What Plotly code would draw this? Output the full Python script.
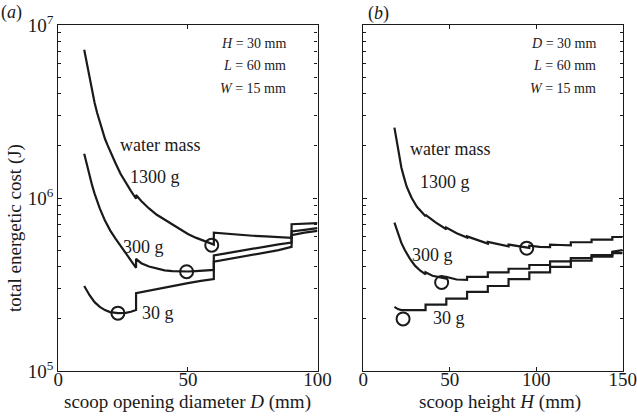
import plotly.graph_objects as go

W, H = 637, 417

# ---------------- data: panel (a), cost vs scoop opening diameter D (mm) ----------------
D_1300 = [10, 11, 12, 13, 14, 15, 16, 17, 18, 19, 20, 22, 24, 26, 28, 30, 30, 32, 35, 38, 41, 44, 47,
          50, 53, 56, 58, 60, 60, 65, 70, 75, 80, 85, 90, 90, 95, 100]
E_1300_a = [7.2e6, 6.0e6, 5.0e6, 4.2e6, 3.55e6, 3.1e6, 2.75e6, 2.45e6, 2.2e6, 2.02e6, 1.86e6, 1.6e6,
            1.38e6, 1.22e6, 1.1e6, 0.99e6, 1.04e6, 9.6e5, 8.7e5, 8.0e5, 7.5e5, 7.0e5, 6.6e5,
            6.2e5, 5.9e5, 5.65e5, 5.5e5, 5.38e5, 6.3e5, 6.2e5, 6.12e5, 6.05e5, 6.0e5, 5.95e5, 5.88e5,
            7.05e5, 7.1e5, 7.15e5]

D_300 = [10, 11, 12, 13, 14, 15, 16, 18, 20, 22, 24, 26, 28, 30, 30, 32, 35, 38, 41, 44, 47, 50, 53,
         56, 60, 60, 65, 70, 75, 80, 85, 90, 90, 95, 100]
E_300_a = [1.8e6, 1.55e6, 1.35e6, 1.19e6, 1.06e6, 9.6e5, 8.7e5, 7.4e5, 6.5e5, 5.85e5, 5.3e5, 4.85e5,
           4.38e5, 3.95e5, 4.45e5, 4.2e5, 4.02e5, 3.9e5, 3.82e5, 3.78e5, 3.76e5, 3.76e5, 3.78e5,
           3.8e5, 3.84e5, 4.65e5, 4.8e5, 4.95e5, 5.1e5, 5.25e5, 5.4e5, 5.52e5, 6.4e5, 6.55e5, 6.7e5]

D_30 = [10, 12, 14, 16, 18, 20, 23, 26, 28, 30, 30, 35, 40, 45, 50, 55, 60,
        60, 65, 70, 75, 80, 85, 90, 90, 95, 100]
E_30_a = [3.1e5, 2.75e5, 2.5e5, 2.35e5, 2.25e5, 2.19e5, 2.16e5, 2.17e5, 2.2e5, 2.25e5, 2.82e5,
          2.92e5, 3.02e5, 3.12e5, 3.22e5, 3.32e5, 3.4e5,
          4.28e5, 4.42e5, 4.56e5, 4.7e5, 4.85e5, 5.0e5, 5.22e5, 6.1e5, 6.3e5, 6.45e5]

D_opt = [23, 49.5, 59.2]
E_opt_a = [2.16e5, 3.75e5, 5.34e5]

# ---------------- data: panel (b), cost vs scoop height H (mm) ----------------
H_1300 = [18, 19, 20, 21, 22, 23.5, 25, 26.5, 28, 31, 33.5, 36, 36, 42, 48, 48, 54, 60, 60, 66, 72,
          72, 78, 84, 84, 90, 96, 96, 102, 108, 108, 114, 120, 120, 132, 132, 144, 144, 150]
E_1300_b = [2.55e6, 2.2e6, 1.9e6, 1.68e6, 1.5e6, 1.32e6, 1.17e6, 1.08e6, 1.0e6, 8.9e5, 8.3e5, 7.85e5,
            8.0e5, 7.2e5, 6.6e5, 6.75e5, 6.25e5, 5.9e5, 6.0e5, 5.7e5, 5.45e5, 5.58e5, 5.4e5, 5.25e5,
            5.38e5, 5.25e5, 5.15e5, 5.3e5, 5.22e5, 5.2e5, 5.38e5, 5.35e5, 5.33e5, 5.55e5, 5.55e5,
            5.75e5, 5.75e5, 5.95e5, 5.95e5]

H_300 = [18, 20, 22, 24, 27, 30, 33, 36, 36, 40, 44, 48, 48, 54, 60, 60, 72, 72, 84, 84, 96, 96,
         108, 108, 120, 120, 132, 132, 144, 144, 150]
E_300_b = [7.2e5, 6.2e5, 5.5e5, 5.0e5, 4.45e5, 4.05e5, 3.8e5, 3.62e5, 3.72e5, 3.55e5, 3.48e5, 3.42e5,
           3.5e5, 3.38e5, 3.36e5, 3.5e5, 3.5e5, 3.72e5, 3.72e5, 3.9e5, 3.9e5, 4.1e5,
           4.1e5, 4.3e5, 4.3e5, 4.5e5, 4.5e5, 4.68e5, 4.68e5, 4.9e5, 5.0e5]

H_30 = [18, 20, 22, 36, 36, 48, 48, 60, 60, 72, 72, 84, 84, 96, 96, 108, 108, 120, 120, 132, 132,
        144, 144, 150]
E_30_b = [2.35e5, 2.28e5, 2.25e5, 2.25e5, 2.42e5, 2.42e5, 2.62e5, 2.62e5, 2.87e5, 2.87e5, 3.1e5,
          3.1e5, 3.4e5, 3.4e5, 3.72e5, 3.72e5, 4.0e5, 4.0e5, 4.35e5, 4.35e5, 4.58e5, 4.58e5,
          4.8e5, 4.8e5]

H_opt = [23, 45.3, 94.5]
E_opt_b = [2.0e5, 3.25e5, 5.13e5]

# ---------------- tick labels ----------------
x_ticks_a = [0, 50, 100]
x_ticks_b = [0, 50, 100, 150]
y_major = [1e5, 1e6, 1e7]
y_major_text = ["10<sup>5</sup>", "10<sup>6</sup>", "10<sup>7</sup>"]
y_minor = [k * 10 ** e for e in (5, 6) for k in range(2, 10)]

FONT = "Liberation Serif"
INK = "#1a1a1a"
LW = 2.2


def px(x):
    return x / W


def py(y):
    return 1 - y / H


fig = go.Figure()
for xs, ys in [(D_1300, E_1300_a), (D_300, E_300_a), (D_30, E_30_a)]:
    fig.add_trace(go.Scatter(x=xs, y=ys, mode="lines", line=dict(color=INK, width=LW),
                             xaxis="x", yaxis="y", showlegend=False, hoverinfo="skip"))
fig.add_trace(go.Scatter(x=D_opt, y=E_opt_a, mode="markers",
                         marker=dict(symbol="circle-open", size=13, color=INK, line=dict(width=2)),
                         xaxis="x", yaxis="y", showlegend=False))
for xs, ys in [(H_1300, E_1300_b), (H_300, E_300_b), (H_30, E_30_b)]:
    fig.add_trace(go.Scatter(x=xs, y=ys, mode="lines", line=dict(color=INK, width=LW),
                             xaxis="x2", yaxis="y2", showlegend=False, hoverinfo="skip"))
fig.add_trace(go.Scatter(x=H_opt, y=E_opt_b, mode="markers",
                         marker=dict(symbol="circle-open", size=13, color=INK, line=dict(width=2)),
                         xaxis="x2", yaxis="y2", showlegend=False))

common_x = dict(showgrid=False, zeroline=False, showline=True, linecolor=INK, linewidth=1.2,
                mirror="allticks", ticks="inside", ticklen=4, tickcolor=INK, automargin=False,
                ticklabelstandoff=-9,
                tickfont=dict(family=FONT, size=19, color=INK))
common_y = dict(type="log", range=[5, 7], showgrid=False, zeroline=False, showline=True,
                linecolor=INK, linewidth=1.2, mirror="allticks", ticks="inside", ticklen=4,
                tickcolor=INK, tickvals=y_major, ticktext=y_major_text, automargin=False,
                tickfont=dict(family=FONT, size=19, color=INK),
                minor=dict(tickvals=y_minor, ticks="inside", ticklen=3, tickcolor=INK))

ydom = [py(371), py(25)]
fig.update_layout(
    width=W, height=H, margin=dict(l=0, r=0, t=0, b=0, autoexpand=False),
    paper_bgcolor="white", plot_bgcolor="white",
    font=dict(family=FONT, color=INK),
    xaxis=dict(domain=[px(58.3), px(317.5)], range=[0, 100], tickvals=x_ticks_a,
               anchor="y", **common_x),
    yaxis=dict(domain=ydom, anchor="x", **common_y),
    xaxis2=dict(domain=[px(363.3), px(622.7)], range=[0, 150], tickvals=x_ticks_b,
                anchor="y2", **common_x),
    yaxis2=dict(domain=ydom, anchor="x2", showticklabels=False, **common_y),
)


def note(x, y, text, size=18, xanchor="center", **kw):
    fig.add_annotation(x=px(x), y=py(y), xref="paper", yref="paper", text=text, showarrow=False,
                       xanchor=xanchor, yanchor="middle",
                       font=dict(family=FONT, size=size, color=INK), **kw)


# panel labels
note(11, 12, "(<i>a</i>)", size=18)
note(378, 13, "(<i>b</i>)", size=18)

# axis titles
note(187.5, 402, "scoop opening diameter <i>D</i> (mm)", size=19)
note(500, 402, "scoop height <i>H</i> (mm)", size=19)
note(15, 228, "total energetic cost (J)", size=19, textangle=-90)

# curve labels panel (a)
note(160, 145, "water mass")
note(155, 177, "1300 g")
note(143, 247, "300 g")
note(158, 313, "30 g")
# curve labels panel (b)
note(450, 149, "water mass")
note(445, 182, "1300 g")
note(432, 255, "300 g")
note(449, 318, "30 g")

# parameter boxes
for i, t in enumerate(["<i>H</i> = 30 mm", "<i>L</i> = 60 mm", "<i>W</i> = 15 mm"]):
    note(288, 43 + i * 22.5, t, size=14, xanchor="right")
for i, t in enumerate(["<i>D</i> = 30 mm", "<i>L</i> = 60 mm", "<i>W</i> = 15 mm"]):
    note(598, 43 + i * 22.5, t, size=14, xanchor="right")

fig.write_html("out.html", config={"displayModeBar": False},
               post_script="document.body.style.margin='0';")
